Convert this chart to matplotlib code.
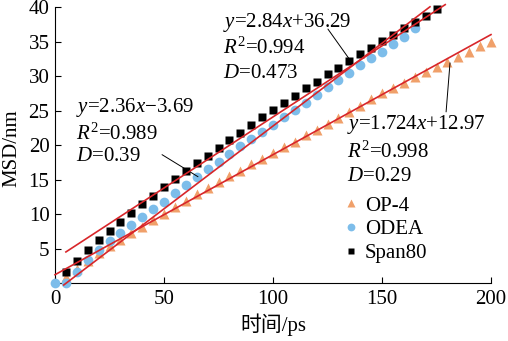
import numpy as np
import matplotlib
matplotlib.use("Agg")
import matplotlib.pyplot as plt

plt.rcParams['font.family'] = ['Liberation Serif', 'Noto Sans CJK SC']
plt.rcParams['mathtext.fontset'] = 'custom'
plt.rcParams['mathtext.rm'] = 'Liberation Serif'
plt.rcParams['mathtext.it'] = 'Liberation Serif:italic'
plt.rcParams['axes.unicode_minus'] = True

# ---- data ----
time_op4 = np.arange(5, 201, 5)
msd_op4 = [0.8, 2.0, 3.2, 4.3, 5.3, 6.3, 7.2, 8.1, 9.1, 10.0,
           11.0, 11.9, 12.9, 13.8, 14.6, 15.5, 16.3, 17.2, 18.0, 18.8,
           19.7, 20.5, 21.4, 22.2, 23.0, 23.9, 24.8, 25.7, 26.6, 27.5,
           28.2, 29.0, 29.9, 30.6, 31.3, 32.0, 32.8, 33.5, 34.3, 35.0]

time_odea = np.arange(0, 166, 5)
msd_odea = [0.0, 0.0, 1.6, 3.3, 4.8, 6.1, 7.3, 8.4, 9.5, 10.7,
            11.8, 13.0, 14.2, 15.3, 16.5, 17.6, 18.7, 19.8, 20.9, 21.9,
            22.9, 24.0, 25.1, 26.1, 27.2, 28.4, 29.4, 30.4, 31.6, 32.6,
            33.5, 34.6, 35.6, 37.0]

time_span = np.arange(5, 176, 5)
msd_span = [1.6, 3.2, 4.8, 6.2, 7.5, 8.9, 10.2, 11.4, 12.6, 13.9,
            15.1, 16.3, 17.4, 18.4, 19.6, 20.7, 21.7, 22.9, 24.1, 25.1,
            26.1, 27.1, 28.2, 29.1, 30.3, 31.2, 32.2, 33.2, 34.1, 35.1,
            36.0, 37.0, 37.8, 38.7, 39.7]

# linear fits: slope, intercept, x-range
fit_op4 = (0.174, 1.2, 0, 200)
fit_odea = (0.240, -1.25, 4, 172)
fit_span = (0.206, 3.47, 5, 179)

labels = ["OP-4", "ODEA", "Span80"]
eq_op4 = [r"$y$=1.724$x$+12.97", r"$R^2$=0.998", r"$D$=0.29"]
eq_odea = [r"$y$=2.36$x$−3.69", r"$R^2$=0.989", r"$D$=0.39"]
eq_span = [r"$y$=2.84$x$+36.29", r"$R^2$=0.994", r"$D$=0.473"]

xticks = [0, 50, 100, 150, 200]
yticks = [5, 10, 15, 20, 25, 30, 35, 40]

# ---- figure ----
fs = 15
fig = plt.figure(figsize=(5.08, 3.41), dpi=100)
ax = fig.add_axes([55/508, 1-283/341, (491-55)/508, (283-7)/341])

c_op4 = '#F0A06A'
c_odea = '#7DBDEA'
c_span = '#000000'
c_fit = '#D8262A'

h1, = ax.plot(time_op4, msd_op4, ls='none', marker='^', ms=7, color=c_op4,
              mec='none', clip_on=False, zorder=3)
h2, = ax.plot(time_odea, msd_odea, ls='none', marker='o', ms=7, color=c_odea,
              mec='none', clip_on=False, zorder=3)
h3, = ax.plot(time_span, msd_span, ls='none', marker='s', ms=5.8, color=c_span,
              mec='none', clip_on=False, zorder=3)

for k, b, x0, x1 in (fit_op4, fit_odea, fit_span):
    xx = np.array([x0, x1])
    ax.plot(xx, k * xx + b, color=c_fit, lw=1.2, clip_on=False, zorder=4)

ax.set_xlim(0, 200)
ax.set_ylim(0, 40)
ax.set_xticks(xticks)
ax.set_yticks(yticks)
ax.tick_params(direction='in', length=4, width=0.8, labelsize=fs)
ax.tick_params(axis='x', pad=5)
ax.tick_params(axis='y', pad=4)
for s in ('top', 'right'):
    ax.spines[s].set_visible(False)
for s in ('left', 'bottom'):
    ax.spines[s].set_linewidth(0.8)

ax.set_xlabel("时间/ps", fontsize=fs)
ax.xaxis.set_label_coords(0.5, -0.11)
ax.set_ylabel("MSD/nm", fontsize=fs)
ax.yaxis.set_label_coords(-0.078, 0.49)

# equation blocks
def block(lines, x, ys):
    for t, y in zip(lines, ys):
        ax.text(x, y, t, fontsize=fs, ha='left', va='center', zorder=5)

block(eq_odea, 9.6, [25.5, 21.6, 18.3])
block(eq_span, 77.0, [37.8, 34.1, 30.4])
block(eq_op4, 134.0, [22.9, 19.0, 15.5])

# leader lines
lead = dict(arrowprops=dict(arrowstyle='-', color='black', lw=0.7,
                            shrinkA=0, shrinkB=0))
ax.annotate('', xy=(65.6, 15.4), xytext=(49.1, 18.6), **lead)
ax.annotate('', xy=(134.9, 32.5), xytext=(125.2, 36.8), **lead)
ax.annotate('', xy=(181.2, 31.9), xytext=(179.4, 24.8), **lead)

leg = ax.legend([h1, h2, h3], labels, loc='upper left',
                bbox_to_anchor=((345-55)/436, (283-196)/276),
                frameon=False, fontsize=fs, handlelength=0.6,
                handletextpad=0.35, labelspacing=0.2, borderpad=0,
                borderaxespad=0, markerscale=0.8)

fig.savefig("out.png", dpi=100)
